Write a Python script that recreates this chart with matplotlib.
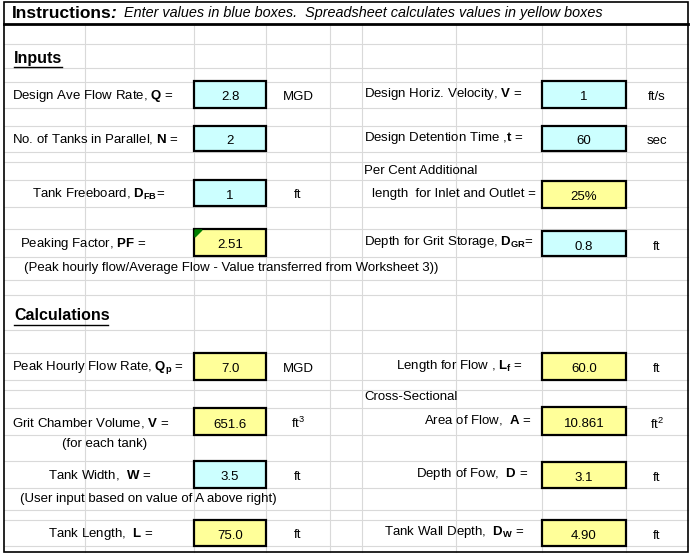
import matplotlib.pyplot as plt
from matplotlib.patches import Rectangle, Polygon

plt.rcParams['font.family'] = 'Liberation Sans'
plt.rcParams['mathtext.fontset'] = 'custom'
plt.rcParams['mathtext.rm'] = 'Liberation Sans'
plt.rcParams['mathtext.bf'] = 'Liberation Sans:bold'
plt.rcParams['mathtext.it'] = 'Liberation Sans:italic'

BLUE = '#ccffff'
YELLOW = '#ffff99'

# left column entries: label, value, unit, box colour, box y-top, box y-bottom
left_labels = [r'Design Ave Flow Rate, $\mathbf{Q}$ =', r'No. of Tanks in Parallel, $\mathbf{N}$ =',
               r'Tank Freeboard, $\mathbf{D_{FB}}$=', r'Peaking Factor, $\mathbf{PF}$ =',
               r'Peak Hourly Flow Rate, $\mathbf{Q_p}$ =', r'Grit Chamber Volume, $\mathbf{V}$ =',
               r'Tank Width,  $\mathbf{W}$ =', r'Tank Length,  $\mathbf{L}$ =']
left_values = ['2.8', '2', '1', '2.51', '7.0', '651.6', '3.5', '75.0']
left_units = ['MGD', '', 'ft', '', 'MGD', r'ft$^3$', 'ft', 'ft']
left_colors = [BLUE, BLUE, BLUE, YELLOW, YELLOW, YELLOW, BLUE, YELLOW]
left_tops = [81, 126, 180, 229, 353, 408, 461, 520]
left_bots = [108, 151, 206, 256, 380, 435, 488, 546]
left_label_x = [12, 12, 32, 20, 12, 12, 48, 48]

right_labels = [r'Design Horiz. Velocity, $\mathbf{V}$ =', r'Design Detention Time ,$\mathbf{t}$ =',
                r'length  for Inlet and Outlet =', r'Depth for Grit Storage, $\mathbf{D_{GR}}$=',
                r'Length for Flow , $\mathbf{L_f}$ =', r'Area of Flow,  $\mathbf{A}$ =',
                r'Depth of Fow,  $\mathbf{D}$ =', r'Tank Wall Depth,  $\mathbf{D_W}$ =']
right_values = ['1', '60', '25%', '0.8', '60.0', '10.861', '3.1', '4.90']
right_units = ['ft/s', 'sec', '', 'ft', 'ft', r'ft$^2$', 'ft', 'ft']
right_colors = [BLUE, BLUE, YELLOW, BLUE, YELLOW, YELLOW, YELLOW, YELLOW]
right_tops = [81, 126, 181, 231, 353, 407, 462, 520]
right_bots = [108, 151, 208, 256, 380, 435, 488, 546]
right_label_x = [364, 364, 372, 364, 396, 424, 416, 384]

grid_x = [85, 194, 266, 330, 362, 456, 542, 626]
grid_y = [44, 68, 82, 108, 126, 152, 162, 180, 207, 229, 257, 280, 295, 330, 353, 380,
          390, 408, 435, 461, 488, 510, 520, 546]

fig = plt.figure(figsize=(6.99, 5.59), dpi=100)
ax = fig.add_axes([0, 0, 1, 1])
ax.set_xlim(0, 699)
ax.set_ylim(559, 0)
ax.axis('off')

for gx in grid_x:
    ax.plot([gx, gx], [24, 552], color='#d9d9d9', lw=0.8, zorder=0)
for gy in grid_y:
    ax.plot([4, 688], [gy, gy], color='#d9d9d9', lw=0.8, zorder=0)

ax.add_patch(Rectangle((4, 2), 684, 550, fill=False, ec='black', lw=1.2, zorder=3))
ax.plot([4, 688], [24, 24], color='black', lw=2, zorder=3)

ax.text(12, 13, 'Instructions', fontsize=12.5, fontweight='bold', va='center')
ax.text(110, 13, ':', fontsize=12.5, fontweight='bold', fontstyle='italic', va='center')
ax.text(124, 13, 'Enter values in blue boxes.  Spreadsheet calculates values in yellow boxes',
        fontsize=10.4, fontstyle='italic', va='center')

ax.text(14, 58, 'Inputs', fontsize=11.5, fontweight='bold', va='center')
ax.plot([14, 62], [67, 67], color='black', lw=1)
ax.text(14, 316, 'Calculations', fontsize=11.5, fontweight='bold', va='center')
ax.plot([14, 108], [325, 325], color='black', lw=1)

FS = 9.5
for i in range(len(left_labels)):
    t, b = left_tops[i], left_bots[i]
    ax.add_patch(Rectangle((194, t), 72, b - t, fc=left_colors[i], ec='black', lw=1.6, zorder=2))
    ym = (t + b) / 2 + 1
    ax.text(left_label_x[i], ym, left_labels[i], fontsize=FS, va='center')
    ax.text(230, ym + 2, left_values[i], fontsize=FS, va='center', ha='center')
    ax.text(298, ym + 1, left_units[i], fontsize=FS, va='center', ha='center')

for i in range(len(right_labels)):
    t, b = right_tops[i], right_bots[i]
    ax.add_patch(Rectangle((542, t), 84, b - t, fc=right_colors[i], ec='black', lw=1.6, zorder=2))
    ym = (t + b) / 2 + 1
    ax.text(right_label_x[i], ym - 2, right_labels[i], fontsize=FS, va='center')
    ax.text(584, ym + 2, right_values[i], fontsize=FS, va='center', ha='center')
    ax.text(657, ym + 2, right_units[i], fontsize=FS, va='center', ha='center')

# green comment marker on PF cell
ax.add_patch(Polygon([[195, 230], [202, 230], [195, 237]], color='#008000', zorder=4))

ax.text(364, 171, 'Per Cent Additional', fontsize=FS, va='center')
ax.text(364, 397, 'Cross-Sectional', fontsize=FS, va='center')
ax.text(24, 268, '(Peak hourly flow/Average Flow - Value transferred from Worksheet 3))', fontsize=FS, va='center')
ax.text(62, 444, '(for each tank)', fontsize=FS, va='center')
ax.text(20, 499, '(User input based on value of A above right)', fontsize=FS, va='center')

fig.savefig('out.png', dpi=100)
